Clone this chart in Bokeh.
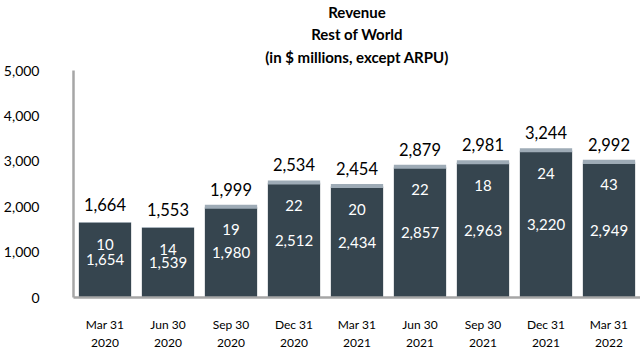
from bokeh.plotting import figure
from bokeh.models import ColumnDataSource, Title, FactorRange, NumeralTickFormatter, FixedTicker
from bokeh.embed import file_html
from bokeh.resources import INLINE
from bokeh.core.properties import value

quarters = ["Mar 31\n2020", "Jun 30\n2020", "Sep 30\n2020", "Dec 31\n2020", "Mar 31\n2021",
            "Jun 30\n2021", "Sep 30\n2021", "Dec 31\n2021", "Mar 31\n2022"]
base_rev = [1654, 1539, 1980, 2512, 2434, 2857, 2963, 3220, 2949]
other_rev = [10, 14, 19, 22, 20, 22, 18, 24, 43]
total_rev = [1664, 1553, 1999, 2534, 2454, 2879, 2981, 3244, 2992]
y_ticks = [0, 1000, 2000, 3000, 4000, 5000]

DARK = "#36454f"
LIGHT = "#9eabb6"
FONT = "Lato"

fmt = lambda v: f"{v:,}"
src = ColumnDataSource(dict(
    q=quarters, base=base_rev, other=other_rev, total=total_rev,
    mid=[b / 2 for b in base_rev],
    base_lbl=[fmt(v) for v in base_rev],
    other_lbl=[fmt(v) for v in other_rev],
    total_lbl=[fmt(v) for v in total_rev],
    band=[1 if o >= 15 else 0 for o in other_rev],
))

p = figure(width=640, height=352, x_range=FactorRange(*quarters), y_range=(0, 5000),
           output_backend="svg", toolbar_location=None,
           min_border_left=66, min_border_right=0, min_border_top=0, min_border_bottom=40)
p.title = None
p.outline_line_color = None
p.background_fill_color = "white"
p.grid.visible = False
p.x_range.range_padding = 0.0
p.x_range.group_padding = 0.0

p.vbar_stack(["base", "other"], x="q", width=0.83, source=src,
             color=[DARK, LIGHT], line_color=None)
p.rect(x="q", y="total", width=0.83, height=4, height_units="screen", source=src,
       fill_color=LIGHT, line_color=None, fill_alpha="band")

p.text(x="q", y="total", text="total_lbl", source=src, text_align="center",
       text_baseline="bottom", y_offset=-11, text_font=value(FONT),
       text_font_size="16.5px", text_color="black")
p.text(x="q", y="total", text="other_lbl", source=src, text_align="center",
       text_baseline="middle", y_offset=23, text_font=value(FONT),
       text_font_size="15px", text_color="white")
p.text(x="q", y="mid", text="base_lbl", source=src, text_align="center",
       text_baseline="middle", text_font=value(FONT),
       text_font_size="15px", text_color="white")

for ax in (p.xaxis, p.yaxis):
    ax.axis_line_color = "#a6a6a6"
    ax.axis_line_width = 2.5
    ax.major_tick_line_color = None
    ax.minor_tick_line_color = None
    ax.major_label_text_font = FONT
    ax.major_label_text_color = "black"

p.yaxis.ticker = FixedTicker(ticks=y_ticks)
p.yaxis.formatter = NumeralTickFormatter(format="0,0")
p.yaxis.major_label_text_font_size = "14px"
p.yaxis.major_label_standoff = 28
p.xaxis.major_label_text_font_size = "12px"
p.xaxis.major_label_standoff = 13

p.add_layout(Title(text=" ", text_font_size="1px", standoff=1, offset=0), "above")
for t, so in [("(in $ millions, except ARPU)", 1), ("Rest of World", 5), ("Revenue", 0)]:
    p.add_layout(Title(text=t, align="center", text_font=FONT, text_font_size="15px",
                       text_font_style="bold", text_color="black", standoff=so, offset=0), "above")

open("out.html", "w").write(file_html(p, INLINE))
